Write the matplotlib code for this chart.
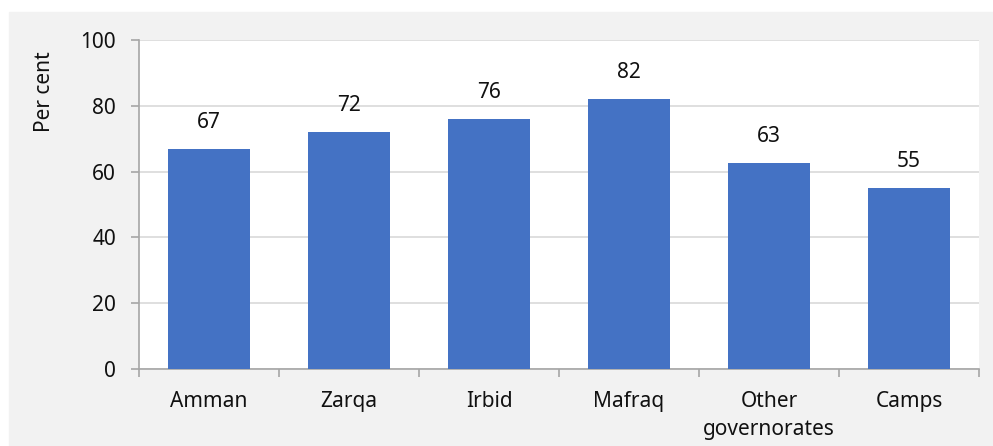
import numpy as np
import matplotlib.pyplot as plt
from matplotlib.patches import Rectangle

categories = ["Amman", "Zarqa", "Irbid", "Mafraq", "Other\ngovernorates", "Camps"]
values = [67, 72, 76, 82, 62.5, 55]
labels = ["67", "72", "76", "82", "63", "55"]
yticks = [0, 20, 40, 60, 80, 100]

plt.rcParams['font.family'] = ['Noto Sans', 'DejaVu Sans']
txt = '#111111'

fig = plt.figure(figsize=(9.93, 4.46), dpi=100)
fig.patches.append(Rectangle((9 / 993, 0), 1, (446 - 12) / 446,
                             transform=fig.transFigure, color='#f2f2f2', zorder=-10))
ax = fig.add_axes([139 / 993, (446 - 369) / 446, (979 - 139) / 993, (369 - 40) / 446])
ax.set_facecolor('white')

x = np.arange(len(categories))
bars = ax.bar(x, values, width=0.59, color='#4472c4', zorder=3)
for b, lab in zip(bars, labels):
    ax.annotate(lab, (b.get_x() + b.get_width() / 2, b.get_height()),
                xytext=(0, 11.5), textcoords='offset points',
                ha='center', va='bottom', fontsize=15, color=txt)

ax.set_xlim(-0.5, len(categories) - 0.5)
ax.set_ylim(0, 100)
ax.set_yticks(yticks)
ax.yaxis.grid(True, color='#d9d9d9', linewidth=1.2, zorder=0)
ax.set_axisbelow(True)

ax.set_xticks(x)
ax.set_xticklabels(categories, fontsize=15, color=txt, linespacing=1.45)
ax.set_xticks(np.arange(-0.5, len(categories)), minor=True)
ax.tick_params(axis='x', which='major', length=0, pad=15.5)
ax.tick_params(axis='x', which='minor', length=5.5, color='#a6a6a6', width=1.2)
ax.tick_params(axis='y', length=5.5, color='#a6a6a6', width=1.2, labelsize=15,
               labelcolor=txt, pad=11)

for s in ['top', 'right']:
    ax.spines[s].set_visible(False)
for s in ['left', 'bottom']:
    ax.spines[s].set_color('#a6a6a6')
    ax.spines[s].set_linewidth(1.2)

ax.text(-0.113, 0.842, "Per cent", transform=ax.transAxes, rotation=90,
        ha='center', va='center', fontsize=15, color=txt)

plt.savefig("out.png", dpi=100)
